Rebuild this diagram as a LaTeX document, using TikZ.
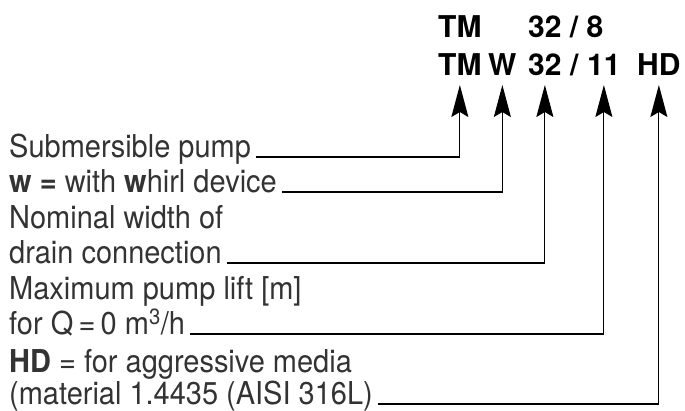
\documentclass[tikz,border=0pt]{standalone}
\usepackage{fontspec}
\setmainfont{TeX Gyre Heros}
\newfontfamily\descfont{TeX Gyre Heros}[FakeStretch=0.92]
\usetikzlibrary{arrows.meta}

\tikzset{
  code/.style={font=\fontsize{30}{36}\selectfont\bfseries, inner sep=0pt, anchor=base west},
  desc/.style={font=\descfont\fontsize{31.5}{36}\selectfont, inner sep=0pt, anchor=base west, text=black!80},
  pin/.style={-{Stealth[length=32pt,width=17pt,inset=5pt]}, line width=1.2pt}
}

\begin{document}
\begin{tikzpicture}[x=1pt,y=-1pt]
  \useasboundingbox (0,0) rectangle (685,410);
  % type codes
  \node[code] (tmA) at (438,37) {TM};
  \node[code] (nA) at (528,37) {32 / 8};
  \node[code] (tm) at (438,75) {TM};
  \node[code] (w) at (488,75) {W};
  \node[code] (dn) at (528,75) {32};
  \node[code] (sl) at (570,75) {/};
  \node[code] (lift) at (587,75) {11};
  \node[code] (hdc) at (637,75) {HD};
  % explanations
  \node[desc] (sub) at (9,157) {Submersible pump};
  \node[desc] (whirl) at (9,192) {\textbf{w =} with \textbf{w}hirl device};
  \node[desc] (nom) at (9,228) {Nominal width of};
  \node[desc] (drain) at (9,263) {drain connection};
  \node[desc] (maxl) at (9,299) {Maximum pump lift [m]};
  \node[desc] (flow) at (9,334) {for Q\,=\,0 m\textsuperscript{3}/h};
  \node[desc] (hd) at (9,372) {\textbf{HD} = for aggressive media};
  \node[desc] (mat) at (9,404) {(material 1.4435 (AISI 316L)};
  % leaders
  \draw[pin] ([xshift=5pt]sub.base east) -| ([yshift=-10pt]tm.base);
  \draw[pin] ([xshift=5pt]whirl.base east) -| ([yshift=-10pt]w.base);
  \draw[pin] ([xshift=5pt]drain.base east) -| ([yshift=-10pt]dn.base);
  \draw[pin] ([xshift=5pt]flow.base east) -| ([yshift=-10pt]lift.base);
  \draw[pin] ([xshift=5pt]mat.base east) -| ([yshift=-10pt]hdc.base);
\end{tikzpicture}
\end{document}
